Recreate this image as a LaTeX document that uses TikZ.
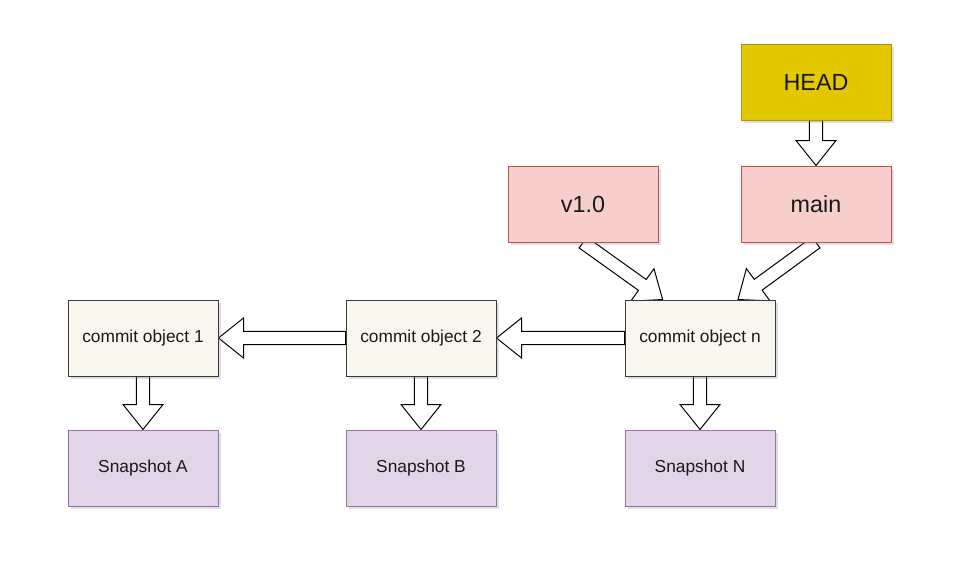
\documentclass[tikz,border=0pt]{standalone}
\usepackage{fontspec}
\setmainfont{Liberation Sans}
\usetikzlibrary{calc,shadows,backgrounds}

\definecolor{headfill}{HTML}{E3C800}
\definecolor{headline}{HTML}{B09500}
\definecolor{reffill}{HTML}{F8CECC}
\definecolor{refline}{HTML}{B85450}
\definecolor{commitfill}{HTML}{F9F7ED}
\definecolor{commitline}{HTML}{36393D}
\definecolor{snapfill}{HTML}{E1D5E7}
\definecolor{snapline}{HTML}{9673A6}

\tikzset{
  box/.style={minimum width=112.5pt,minimum height=57pt,line width=0.75pt,
    text=black!90,drop shadow={shadow xshift=2.25pt,shadow yshift=-2.25pt,opacity=0.25}},
  bigbox/.style={box,font=\fontsize{17.5}{21}\selectfont},
  smallbox/.style={box,font=\fontsize{13}{16}\selectfont},
  headbox/.style={bigbox,fill=headfill,draw=headline},
  refbox/.style={bigbox,fill=reffill,draw=refline},
  commitbox/.style={smallbox,fill=commitfill,draw=commitline},
  snapbox/.style={smallbox,fill=snapfill,draw=snapline}
}

\newcommand{\fatarrow}[2]{%
  \draw[fill=white,line width=0.75pt,line join=miter]
    ($(#1)!5pt!90:(#2)$) -- ($($(#2)!18.75pt!(#1)$)!5pt!90:(#2)$)
    -- ($($(#2)!18.75pt!(#1)$)!15pt!90:(#2)$) -- (#2)
    -- ($($(#2)!18.75pt!(#1)$)!15pt!-90:(#2)$)
    -- ($($(#2)!18.75pt!(#1)$)!5pt!-90:(#2)$)
    -- ($(#1)!5pt!-90:(#2)$) -- cycle;}

\begin{document}
\begin{tikzpicture}[x=0.75pt,y=-0.75pt]
            \useasboundingbox (0,0) rectangle (967,564);
            \node[headbox] (head) at (816,82) {HEAD};
            \node[refbox] (v10) at (583,204) {v1.0};
            \node[refbox] (main) at (816,204) {main};
            \node[commitbox] (c1) at (143,338) {commit object 1};
            \node[commitbox] (c2) at (421,338) {commit object 2};
            \node[commitbox] (cn) at (700,338) {commit object n};
            \node[snapbox] (sa) at (143,468) {Snapshot A};
            \node[snapbox] (sb) at (421,468) {Snapshot B};
            \node[snapbox] (sn) at (700,468) {Snapshot N};
            \coordinate (v10tip) at ([xshift=-28pt]cn.north);
            \coordinate (maintip) at ([xshift=28.5pt]cn.north);
            \begin{scope}[on background layer]
            \fill[white] (0,0) rectangle (967,564);
            \fatarrow{head.south}{main.north}
            \fatarrow{v10.south}{v10tip}
            \fatarrow{main.south}{maintip}
            \fatarrow{cn.west}{c2.east}
            \fatarrow{c2.west}{c1.east}
            \fatarrow{c1.south}{sa.north}
            \fatarrow{c2.south}{sb.north}
            \fatarrow{cn.south}{sn.north}
            \end{scope}
        \end{tikzpicture}
\end{document}
